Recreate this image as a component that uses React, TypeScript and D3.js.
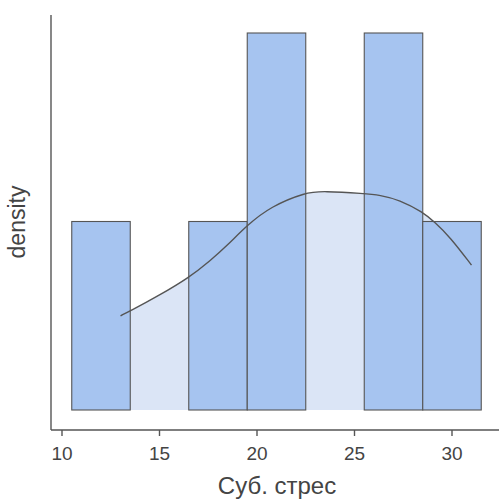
import React from "react";
import * as d3 from "d3";

const binEdges = [10.5, 13.5, 16.5, 19.5, 22.5, 25.5, 28.5, 31.5];
const binCounts = [1, 0, 1, 2, 0, 2, 1];
const densityX = [13, 13.5, 15, 16.5, 17.6, 18.5, 19.5, 20.7, 22.5, 23.4, 25.5, 26.3, 27.3, 28.5, 29.1, 29.9, 31];
const densityY = [0.0238, 0.025, 0.029, 0.0334, 0.0377, 0.0417, 0.0467, 0.0514, 0.055, 0.0553, 0.0547, 0.0543, 0.0531, 0.05, 0.0475, 0.0437, 0.0366];
const xTicks = [10, 15, 20, 25, 30];
const xLabel = "Суб. стрес";
const yLabel = "density";

export default function App() {
  const W = 499, H = 500;
  const n = d3.sum(binCounts);
  const bw = binEdges[1] - binEdges[0];
  const x = d3.scaleLinear().domain([10, 30]).range([62, 452]);
  const y = d3.scaleLinear().domain([0, 2 / (n * bw)]).range([410, 33]);
  const pts = densityX.map((v, i) => [v, densityY[i]] as [number, number]);
  const curve = d3.curveBasis;
  const area = d3.area<[number, number]>().x(d => x(d[0])).y0(y(0)).y1(d => y(d[1])).curve(curve);
  const line = d3.line<[number, number]>().x(d => x(d[0])).y(d => y(d[1])).curve(curve);
  const stroke = "#555555";
  const font = "Arial, 'Liberation Sans', sans-serif";
  return (
    <svg width={W} height={H} style={{ position: "absolute", left: 0, top: 0 }}>
      <rect width={W} height={H} fill="#fff" />
      <path d={area(pts) || ""} fill="#dbe5f6" stroke="none" />
      {binCounts.map((c, i) => {
        const dens = c / (n * bw);
        return (
          <rect key={i} x={x(binEdges[i])} y={y(dens)} width={x(binEdges[i + 1]) - x(binEdges[i])}
            height={y(0) - y(dens)} fill={c > 0 ? "#a6c4f0" : "none"} stroke={stroke} strokeWidth={1.1} />
        );
      })}
      <path d={line(pts) || ""} fill="none" stroke={stroke} strokeWidth={1.4} />
      <line x1={51} x2={51} y1={15} y2={430} stroke={stroke} strokeWidth={1.4} />
      <line x1={51} x2={499} y1={430} y2={430} stroke={stroke} strokeWidth={1.4} />
      {xTicks.map(t => (
        <g key={t}>
          <line x1={x(t)} x2={x(t)} y1={430} y2={436} stroke={stroke} strokeWidth={1.4} />
          <text x={x(t)} y={460} textAnchor="middle" fontFamily={font} fontSize={19} fill="#444">{t}</text>
        </g>
      ))}
      <text x={277} y={494} textAnchor="middle" fontFamily={font} fontSize={24} fill="#444">{xLabel}</text>
      <text transform="translate(25,222) rotate(-90)" textAnchor="middle" fontFamily={font} fontSize={23} fill="#444">{yLabel}</text>
    </svg>
  );
}
